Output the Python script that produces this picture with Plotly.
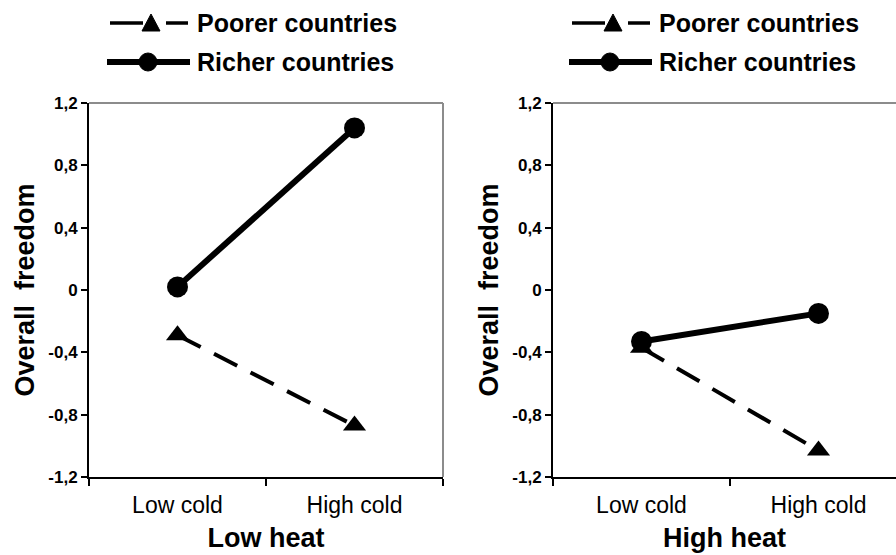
import plotly.graph_objects as go

# ---------------- data ----------------
categories = ["Low cold", "High cold"]
low_heat_poorer = [-0.29, -0.87]
low_heat_richer = [0.02, 1.04]
high_heat_poorer = [-0.37, -1.03]
high_heat_richer = [-0.33, -0.15]
y_tickvals = [-1.2, -0.8, -0.4, 0, 0.4, 0.8, 1.2]
y_ticktext = ["-1,2", "-0,8", "-0,4", "0", "0,4", "0,8", "1,2"]
panel_titles = ["Low heat", "High heat"]
series_names = ["Poorer countries", "Richer countries"]

W, H = 896, 555
FONT = "Arial, Liberation Sans, sans-serif"


def px(x):
    return x / W


def py(y):
    return 1 - y / H


fig = go.Figure()

panels = [
    ("x", "y", low_heat_poorer, low_heat_richer),
    ("x2", "y2", high_heat_poorer, high_heat_richer),
]
for xa, ya, poor, rich in panels:
    fig.add_trace(go.Scatter(
        x=categories, y=poor, xaxis=xa, yaxis=ya, mode="lines+markers",
        name=series_names[0], showlegend=False, cliponaxis=False,
        hoverinfo="skip",
        line=dict(color="black", width=4, dash="26px,15px"),
        marker=dict(symbol="triangle-up", size=20, color="black"),
    ))
    fig.add_trace(go.Scatter(
        x=categories, y=rich, xaxis=xa, yaxis=ya, mode="lines+markers",
        name=series_names[1], showlegend=False, cliponaxis=False,
        hoverinfo="skip",
        line=dict(color="black", width=6),
        marker=dict(symbol="circle", size=21, color="black"),
    ))

# plot area in pixels
L1, R1 = 89, 443
L2, R2 = 553, 896
TOP, BOT = 103, 477
unit = (R1 - L1) / 2.0

xcommon = dict(
    type="category", tickson="boundaries", ticks="outside", ticklen=7,
    tickwidth=2, tickcolor="black", showline=True, linecolor="black",
    linewidth=2, showgrid=False, zeroline=False, automargin=False,
    tickfont=dict(family=FONT, size=23, color="black"),
    ticklabelstandoff=6,
)
ycommon = dict(
    range=[-1.2, 1.2], tickvals=y_tickvals, ticktext=y_ticktext,
    ticks="outside", ticklen=6, tickwidth=2, tickcolor="black",
    showline=True, linecolor="black", linewidth=2, showgrid=False,
    zeroline=False, automargin=False,
    tickfont=dict(family=FONT, size=17, color="black", weight="bold"),
    title=dict(text="Overall\u00a0 freedom", standoff=6,
               font=dict(family=FONT, size=27, color="black", weight="bold")),
)
xtitle_font = dict(family=FONT, size=27, color="black", weight="bold")

fig.update_layout(
    width=W, height=H, margin=dict(l=0, r=0, t=0, b=0, autoexpand=False),
    paper_bgcolor="white", plot_bgcolor="white", showlegend=False,
    xaxis=dict(domain=[px(L1), px(R1)], range=[-0.5, 1.5], anchor="y",
               title=dict(text=panel_titles[0], font=xtitle_font, standoff=12),
               **xcommon),
    yaxis=dict(domain=[py(BOT), py(TOP)], anchor="x", **ycommon),
    xaxis2=dict(domain=[px(L2), 1.0],
                range=[-0.5, -0.5 + (R2 - L2) / unit], anchor="y2",
                title=dict(text=panel_titles[1], font=xtitle_font, standoff=12),
                **xcommon),
    yaxis2=dict(domain=[py(BOT), py(TOP)], anchor="x2", **ycommon),
)

shapes = []
# white strip at the far right edge (the reference panel is cut off there)
shapes.append(dict(type="rect", xref="paper", yref="paper", x0=px(W - 3), x1=1.0,
                   y0=py(BOT - 3), y1=py(TOP + 3), fillcolor="white",
                   line=dict(width=0), layer="above"))
# gray top / right frame lines
gray = "#8c8c8c"
shapes.append(dict(type="line", xref="paper", yref="paper", x0=px(L1), x1=px(R1),
                   y0=py(TOP), y1=py(TOP), line=dict(color=gray, width=2)))
shapes.append(dict(type="line", xref="paper", yref="paper", x0=px(R1), x1=px(R1),
                   y0=py(TOP), y1=py(BOT), line=dict(color=gray, width=2)))
shapes.append(dict(type="line", xref="paper", yref="paper", x0=px(L2), x1=1.0,
                   y0=py(TOP), y1=py(TOP), line=dict(color=gray, width=2)))

# custom legends
annotations = []
for off in (0, 462):
    ry1, ry2 = 23, 62
    # poorer
    shapes.append(dict(type="line", xref="paper", yref="paper",
                       x0=px(110 + off), x1=px(143 + off), y0=py(ry1), y1=py(ry1),
                       line=dict(color="black", width=3.5)))
    shapes.append(dict(type="line", xref="paper", yref="paper",
                       x0=px(166 + off), x1=px(188 + off), y0=py(ry1), y1=py(ry1),
                       line=dict(color="black", width=3.5)))
    cx = 151 + off
    path = "M {} {} L {} {} L {} {} Z".format(
        px(cx - 9), py(ry1 + 8), px(cx + 9), py(ry1 + 8), px(cx), py(ry1 - 9))
    shapes.append(dict(type="path", xref="paper", yref="paper", path=path,
                       fillcolor="black", line=dict(color="black", width=1)))
    # richer
    shapes.append(dict(type="line", xref="paper", yref="paper",
                       x0=px(107 + off), x1=px(190 + off), y0=py(ry2), y1=py(ry2),
                       line=dict(color="black", width=6)))
    cx = 148 + off
    shapes.append(dict(type="circle", xref="paper", yref="paper",
                       x0=px(cx - 9), x1=px(cx + 9), y0=py(ry2 - 9), y1=py(ry2 + 9),
                       fillcolor="black", line=dict(color="black", width=1)))
    for name, yy in zip(series_names, (ry1, ry2)):
        annotations.append(dict(
            text=name, xref="paper", yref="paper", x=px(195 + off), y=py(yy),
            xanchor="left", yanchor="middle", showarrow=False,
            font=dict(family=FONT, size=25, color="black", weight="bold")))

fig.update_layout(shapes=shapes, annotations=annotations, hovermode=False)

fig.write_html("out.html", config={"displayModeBar": False, "staticPlot": True},
               post_script="document.body.style.margin='0';")
